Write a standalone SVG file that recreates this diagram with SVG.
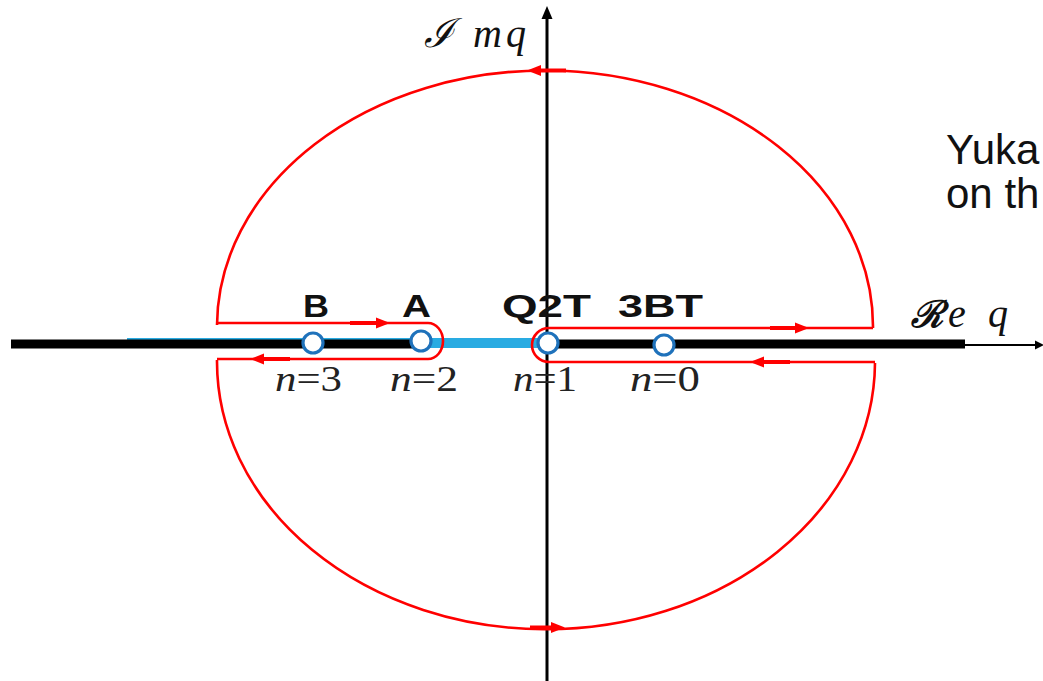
<svg xmlns="http://www.w3.org/2000/svg" width="1043" height="681" viewBox="0 0 1043 681">
<style>
.red{fill:none;stroke:#ff0000;stroke-width:2.6}
.arw{fill:#ff0000}
.pt{fill:#ffffff;stroke:#1f72bb;stroke-width:3.2}
.lbl{font-family:"Liberation Sans",Arial,sans-serif;font-weight:bold;font-size:31px;fill:#111}
.nl{font-family:"Liberation Serif","Times New Roman",serif;font-size:36px;fill:#222}
.ax{font-family:"Liberation Serif","DejaVu Serif",serif;font-size:40px;font-style:italic;fill:#111}
.txt{font-family:"Liberation Sans",Arial,sans-serif;font-size:42px;fill:#111}
</style>
<defs>
<path id="ah" d="M0,0 L-14,-5.5 L-14,5.5 Z"/>
</defs>
<rect width="1043" height="681" fill="#ffffff"/>

<g id="axes">
<line x1="127" y1="343" x2="548" y2="343" stroke="#29abe2" stroke-width="10"/>
<line x1="11" y1="344" x2="416" y2="344" stroke="#000" stroke-width="9"/>
<line x1="548" y1="344" x2="965" y2="344" stroke="#000" stroke-width="9"/>
<line x1="965" y1="345" x2="1036" y2="345" stroke="#000" stroke-width="2"/>
<path d="M1044,345 L1035,340.5 L1035,349.5 Z" fill="#000"/>
<line x1="547" y1="16" x2="547" y2="681" stroke="#000" stroke-width="3"/>
<path d="M547,6 L541.5,19 L552.5,19 Z" fill="#000"/>
<text class="ax" y="47"><tspan x="424" font-family="DejaVu Serif" font-size="40">ℐ</tspan><tspan x="473">m</tspan><tspan x="506">q</tspan></text>
<text class="ax" y="327"><tspan x="911" font-weight="bold" font-family="DejaVu Serif" font-size="37">ℛ</tspan><tspan x="948">e</tspan><tspan x="988">q</tspan></text>
</g>

<g id="connectors">
<path class="red" d="M217,325 A328,256 0 0 1 873,328"/>
<path class="red" d="M217,360 A328,267 0 0 0 875,363"/>
<path class="red" d="M217,323 H428 A15,18 0 0 1 428,359 H217"/>
<path class="red" d="M873,328 H549 A17,17 0 0 0 549,362 H875"/>
<line x1="350" y1="323" x2="380" y2="323" stroke="#ff0000" stroke-width="4"/>
<use href="#ah" class="arw" transform="translate(390,323)"/>
<line x1="262" y1="359" x2="290" y2="359" stroke="#ff0000" stroke-width="4"/>
<use href="#ah" class="arw" transform="translate(250,359) rotate(180)"/>
<line x1="770" y1="328" x2="798" y2="328" stroke="#ff0000" stroke-width="4"/>
<use href="#ah" class="arw" transform="translate(809,328)"/>
<line x1="760" y1="362" x2="790" y2="362" stroke="#ff0000" stroke-width="4"/>
<use href="#ah" class="arw" transform="translate(750,362) rotate(180)"/>
<line x1="538" y1="70.5" x2="566" y2="70.5" stroke="#ff0000" stroke-width="4"/>
<use href="#ah" class="arw" transform="translate(527,70.5) rotate(180)"/>
<line x1="530" y1="627.5" x2="552" y2="627.5" stroke="#ff0000" stroke-width="4"/>
<use href="#ah" class="arw" transform="translate(565,627.5)"/>
</g>

<g id="node-B">
<circle class="pt" cx="313" cy="343" r="10"/>
<text class="lbl" x="303" y="317" textLength="26" lengthAdjust="spacingAndGlyphs">B</text>
<text class="nl" x="275" y="391" textLength="67" lengthAdjust="spacingAndGlyphs"><tspan font-style="italic">n</tspan>=3</text>
</g>
<g id="node-A">
<circle class="pt" cx="421" cy="341" r="10"/>
<text class="lbl" x="402" y="317" textLength="29" lengthAdjust="spacingAndGlyphs">A</text>
<text class="nl" x="390" y="391" textLength="68" lengthAdjust="spacingAndGlyphs"><tspan font-style="italic">n</tspan>=2</text>
</g>
<g id="node-Q2T">
<circle class="pt" cx="548" cy="343" r="10"/>
<text class="lbl" x="502" y="317" textLength="89" lengthAdjust="spacingAndGlyphs">Q2T</text>
<text class="nl" x="513" y="391" textLength="64" lengthAdjust="spacingAndGlyphs"><tspan font-style="italic">n</tspan>=1</text>
</g>
<g id="node-3BT">
<circle class="pt" cx="664" cy="345" r="10"/>
<text class="lbl" x="618" y="317" textLength="85" lengthAdjust="spacingAndGlyphs">3BT</text>
<text class="nl" x="630" y="391" textLength="70" lengthAdjust="spacingAndGlyphs"><tspan font-style="italic">n</tspan>=0</text>
</g>

<g id="note">
<text class="txt" x="946" y="164">Yuka</text>
<text class="txt" x="946" y="208">on th</text>
</g>
</svg>
